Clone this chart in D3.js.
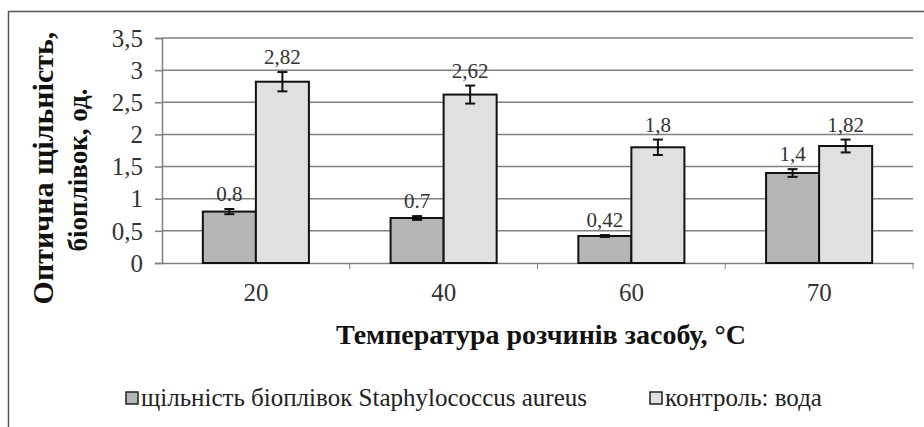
<!DOCTYPE html>
<html>
<head>
<meta charset="utf-8">
<script src="https://cdn.jsdelivr.net/npm/d3@7"></script>
<style>
  body { margin: 0; background: #fff; }
</style>
</head>
<body>
<svg id="chart"></svg>
<script>
// data
var categories = ['20', '40', '60', '70'];
var staph = [0.8, 0.7, 0.42, 1.4];
var staphErr = [0.04, 0.03, 0.015, 0.06];
var staphLabels = ['0.8', '0.7', '0,42', '1,4'];
var water = [2.82, 2.62, 1.8, 1.82];
var waterErr = [0.15, 0.14, 0.12, 0.1];
var waterLabels = ['2,82', '2,62', '1,8', '1,82'];
var yTicks = [0, 0.5, 1, 1.5, 2, 2.5, 3, 3.5];
var seriesNames = ['щільність біоплівок Staphylococcus aureus', 'контроль: вода'];
var seriesColors = ['#b5b5b5', '#e0e0e0'];

var serif = '"Liberation Serif"';

var svgWidth = 924;
var svgHeight = 427;

var svg = d3.select('#chart')
    .attr('width', svgWidth)
    .attr('height', svgHeight);

// outer frame (only left and top edges are visible in the picture)
svg.append('rect')
    .attr('x', 8.5).attr('y', 11.5)
    .attr('width', 940).attr('height', 440)
    .attr('fill', 'none')
    .attr('stroke', '#555')
    .attr('stroke-width', 1.5);

var xScale = d3.scaleBand()
    .domain(categories)
    .range([162, 913]);

var xInner = d3.scaleBand()
    .domain([0, 1])
    .range([0, xScale.bandwidth()])
    .paddingOuter(0.77);

var yScale = d3.scaleLinear()
    .domain([0, 3.5])
    .range([263, 38]);

// grid
svg.append('g')
    .selectAll('line')
    .data(yTicks.slice(1))
    .enter()
    .append('line')
    .attr('x1', 162).attr('x2', 913)
    .attr('y1', function (d) { return yScale(d); })
    .attr('y2', function (d) { return yScale(d); })
    .attr('stroke', '#808080')
    .attr('stroke-width', 1.5);

var yAxis = d3.axisLeft(yScale)
    .tickValues(yTicks)
    .tickSize(7)
    .tickPadding(12)
    .tickFormat(function (d) { return String(d).replace('.', ','); });

var gy = svg.append('g')
    .attr('transform', 'translate(162,0)')
    .call(yAxis);
gy.selectAll('text')
    .style('font-family', serif)
    .style('font-size', '25px')
    .attr('fill', '#333')
    .attr('dy', '0.33em');

var xAxis = d3.axisBottom(xScale)
    .tickSize(0)
    .tickPadding(20);

var gx = svg.append('g')
    .attr('transform', 'translate(0,263)')
    .call(xAxis);
gx.selectAll('text')
    .style('font-family', serif)
    .style('font-size', '25px')
    .attr('fill', '#333');

// tick marks between categories
gx.selectAll('.sep')
    .data(categories)
    .enter()
    .append('line')
    .attr('x1', function (d) { return xScale(d) + xScale.bandwidth(); })
    .attr('x2', function (d) { return xScale(d) + xScale.bandwidth(); })
    .attr('y1', 0).attr('y2', 6)
    .attr('stroke', '#808080');

svg.selectAll('.domain, .tick line').attr('stroke', '#808080').attr('stroke-width', 1.5);

// bars
var rows = categories.map(function (c, i) {
    return [
        { cat: c, s: 0, v: staph[i], e: staphErr[i], label: staphLabels[i] },
        { cat: c, s: 1, v: water[i], e: waterErr[i], label: waterLabels[i] }
    ];
});
var flat = [].concat.apply([], rows);

var bars = svg.append('g');

bars.selectAll('rect')
    .data(flat)
    .enter()
    .append('rect')
    .attr('x', function (d) { return xScale(d.cat) + xInner(d.s); })
    .attr('y', function (d) { return yScale(d.v); })
    .attr('width', xInner.bandwidth())
    .attr('height', function (d) { return yScale(0) - yScale(d.v); })
    .attr('fill', function (d) { return seriesColors[d.s]; })
    .attr('stroke', '#111')
    .attr('stroke-width', 2);

// error bars
var err = bars.selectAll('.err')
    .data(flat)
    .enter()
    .append('g')
    .attr('transform', function (d) {
        return 'translate(' + (xScale(d.cat) + xInner(d.s) + xInner.bandwidth() / 2) + ',0)';
    })
    .attr('stroke', '#111')
    .attr('stroke-width', 2);

err.append('line')
    .attr('y1', function (d) { return yScale(d.v + d.e); })
    .attr('y2', function (d) { return yScale(d.v - d.e); });
err.append('line')
    .attr('x1', -5).attr('x2', 5)
    .attr('y1', function (d) { return yScale(d.v + d.e); })
    .attr('y2', function (d) { return yScale(d.v + d.e); });
err.append('line')
    .attr('x1', -5).attr('x2', 5)
    .attr('y1', function (d) { return yScale(d.v - d.e); })
    .attr('y2', function (d) { return yScale(d.v - d.e); });

// value labels
bars.selectAll('.val')
    .data(flat)
    .enter()
    .append('text')
    .attr('x', function (d) { return xScale(d.cat) + xInner(d.s) + xInner.bandwidth() / 2; })
    .attr('y', function (d) { return yScale(d.v + d.e) - 8; })
    .attr('text-anchor', 'middle')
    .attr('fill', '#333')
    .style('font-family', serif)
    .style('font-size', '21px')
    .text(function (d) { return d.label; });

// axis titles
svg.append('text')
    .attr('x', 541).attr('y', 344)
    .attr('text-anchor', 'middle')
    .attr('fill', '#111')
    .style('font-family', serif)
    .style('font-size', '28px')
    .style('font-weight', 'bold')
    .text('Температура розчинів засобу, °C');

svg.append('text')
    .attr('transform', 'translate(53,168) rotate(-90)')
    .attr('text-anchor', 'middle')
    .attr('fill', '#111')
    .style('font-family', serif)
    .style('font-size', '30px')
    .style('font-weight', 'bold')
    .text('Оптична щільність,');

svg.append('text')
    .attr('transform', 'translate(87,170) rotate(-90)')
    .attr('text-anchor', 'middle')
    .attr('fill', '#111')
    .style('font-family', serif)
    .style('font-size', '27px')
    .style('font-weight', 'bold')
    .text('біоплівок, од.');

// legend
var legendX = [126, 650];
var legend = svg.append('g')
    .selectAll('g')
    .data(seriesNames)
    .enter()
    .append('g')
    .attr('transform', function (d, i) { return 'translate(' + legendX[i] + ',398)'; });

legend.append('rect')
    .attr('x', 0).attr('y', -6)
    .attr('width', 12).attr('height', 12)
    .attr('fill', function (d, i) { return seriesColors[i]; })
    .attr('stroke', '#222')
    .attr('stroke-width', 1.5);

legend.append('text')
    .attr('x', 15).attr('y', 0)
    .attr('dy', '0.33em')
    .attr('fill', '#222')
    .style('font-family', serif)
    .style('font-size', '25px')
    .text(function (d) { return d; });
</script>
</body>
</html>
